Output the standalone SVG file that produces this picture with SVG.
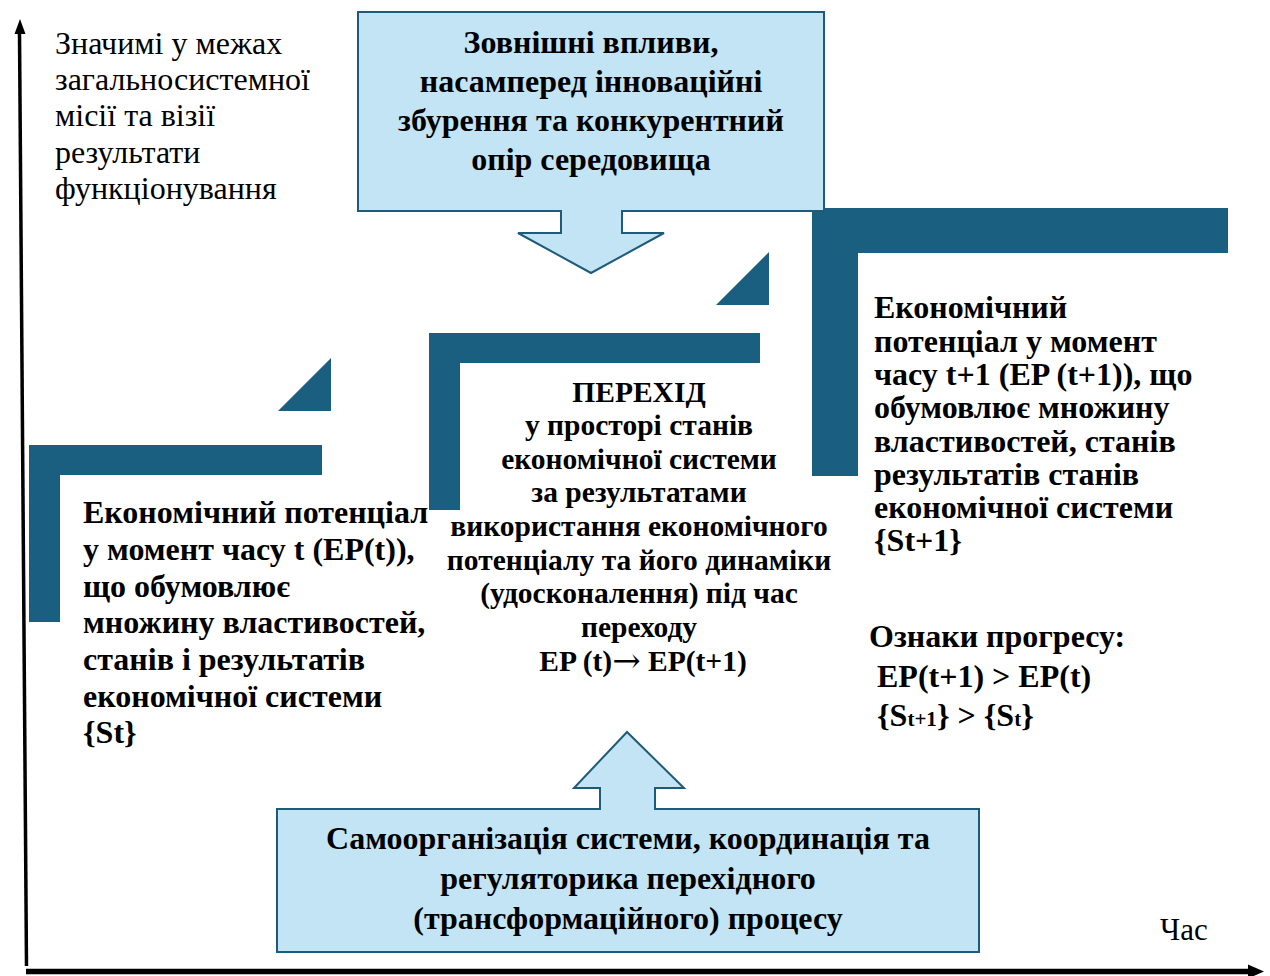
<svg xmlns="http://www.w3.org/2000/svg" width="1270" height="976" viewBox="0 0 1270 976">
<style>
.bar{fill:#1a5f80}
.callout{fill:#c2e4f4;stroke:#1d5b78;stroke-width:2}
.t{font-family:"Liberation Serif","Times New Roman",serif;fill:#000}
.b{font-weight:bold}
.axis{stroke:#000;fill:none}
</style>
<rect width="1270" height="976" fill="#fff"/>
<g id="axes">
<line class="axis" x1="19.5" y1="33" x2="26.5" y2="966" stroke-width="3.5"/>
<polygon points="20,19 14.5,34 25.5,34" fill="#000"/>
<line class="axis" x1="26" y1="971.5" x2="1249" y2="971.5" stroke-width="5.5"/>
<polygon points="1248,964.5 1264,971.5 1248,978.5" fill="#000"/>
</g>
<g id="axis-labels">
<text class="t" font-size="32" x="55" y="54">Значимі у межах</text>
<text class="t" font-size="32" x="55" y="90">загальносистемної</text>
<text class="t" font-size="32" x="55" y="126">місії та візії</text>
<text class="t" font-size="32" x="55" y="163">результати</text>
<text class="t" font-size="32" x="55" y="199">функціонування</text>
<text class="t" font-size="31" x="1160" y="940">Час</text>
</g>
<g id="stairs">
<path class="bar" d="M29,445 H322 V475 H60 V622 H29 Z"/>
<polygon class="bar" points="278,411 331,358 331,411"/>
<path class="bar" d="M429,333 H760 V363 H460 V510 H429 Z"/>
<polygon class="bar" points="716,305 769,252 769,305"/>
<path class="bar" d="M812,208 H1228 V253 H858 V476 H812 Z"/>
</g>
<g id="external">
<path class="callout" d="M358,12 H824 V211 H622 V233 H664 L591,273 L518,233 H561 V211 H358 Z"/>
<g class="t b" font-size="32" text-anchor="middle">
<text x="591" y="53">Зовнішні впливи,</text>
<text x="591" y="92">насамперед інноваційні</text>
<text x="591" y="131">збурення та конкурентний</text>
<text x="591" y="170">опір середовища</text>
</g>
</g>
<g id="ep-t">
<g class="t b" font-size="32">
<text x="83" y="523">Економічний потенціал</text>
<text x="83" y="560">у момент часу t (EP(t)),</text>
<text x="83" y="597">що обумовлює</text>
<text x="83" y="633">множину властивостей,</text>
<text x="83" y="670">станів і результатів</text>
<text x="83" y="707">економічної системи</text>
<text x="83" y="743">{St}</text>
</g>
</g>
<g id="transition">
<g class="t b" font-size="29.5" text-anchor="middle">
<text x="639" y="402">ПЕРЕХІД</text>
<text x="639" y="435">у просторі станів</text>
<text x="639" y="469">економічної системи</text>
<text x="639" y="502">за результатами</text>
<text x="639" y="536">використання економічного</text>
<text x="639" y="570">потенціалу та його динаміки</text>
<text x="639" y="603">(удосконалення) під час</text>
<text x="639" y="637">переходу</text>
<text x="643" y="671">EP (t)<tspan font-family="DejaVu Serif" font-weight="normal" font-size="34" dy="1">→</tspan><tspan dy="-1"> EP(t+1)</tspan></text>
</g>
</g>
<g id="ep-t1">
<g class="t b" font-size="32">
<text x="874" y="318">Економічний</text>
<text x="874" y="352">потенціал у момент</text>
<text x="874" y="385">часу t+1 (EP (t+1)), що</text>
<text x="874" y="418">обумовлює множину</text>
<text x="874" y="452">властивостей, станів</text>
<text x="874" y="485">результатів станів</text>
<text x="874" y="518">економічної системи</text>
<text x="874" y="551">{St+1}</text>
</g>
</g>
<g id="progress">
<g class="t b" font-size="32">
<text x="869" y="647">Ознаки прогресу:</text>
<text x="877" y="687">EP(t+1) &gt; EP(t)</text>
<text x="877" y="726">{S<tspan font-size="21">t+1</tspan>} &gt; {S<tspan font-size="21">t</tspan>}</text>
</g>
</g>
<g id="self-org">
<path class="callout" d="M277,809 H600 V788 H574 L627,732 L684,788 H655 V809 H979 V952 H277 Z"/>
<g class="t b" font-size="32" text-anchor="middle">
<text x="628" y="849">Самоорганізація системи, координація та</text>
<text x="628" y="889">регуляторика перехідного</text>
<text x="628" y="929">(трансформаційного) процесу</text>
</g>
</g>
</svg>
